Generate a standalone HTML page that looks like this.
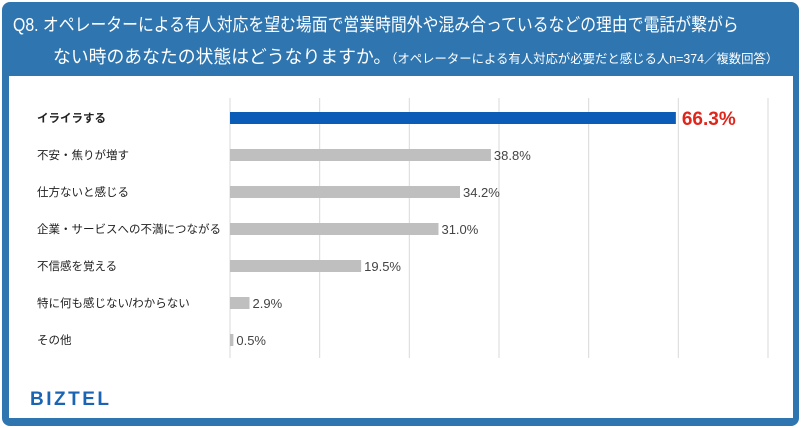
<!DOCTYPE html>
<html><head><meta charset="utf-8"><style>
body{margin:0;width:801px;height:428px;overflow:hidden;background:#fff;font-family:"Liberation Sans","Noto Sans CJK JP",sans-serif}
#frame{position:absolute;left:2px;top:2px;width:797px;height:424px;background:#2f76b1;border-radius:8px}
#panel{position:absolute;left:9px;top:76px;width:784px;height:342px;background:#fff}
.t{position:absolute;color:#fff;white-space:nowrap;transform-origin:0 0}
</style></head><body>
<div id="frame"></div>
<div class="t" style="left:13px;top:11px;font-size:18px;transform:scaleX(0.88)">Q8. オペレーターによる有人対応を望む場面で営業時間外や混み合っているなどの理由で電話が繋がら</div>
<div class="t" style="left:53px;top:43px;font-size:18px;transform:scaleX(0.99)">ない時のあなたの状態はどうなりますか。<span style="font-size:12.5px">（オペレーターによる有人対応が必要だと感じる人n=374／複数回答）</span></div>
<div id="panel"></div>
<svg id="chart" width="801" height="428" style="position:absolute;left:0;top:0"></svg>
<div style="position:absolute;left:30px;top:389px;color:#1b64b3;font-weight:bold;font-size:19px;letter-spacing:2.5px">BIZTEL</div>
<script>
const categories=["イライラする","不安・焦りが増す","仕方ないと感じる","企業・サービスへの不満につながる","不信感を覚える","特に何も感じない/わからない","その他"];
const values=[66.3,38.8,34.2,31.0,19.5,2.9,0.5];
const labels=["66.3%","38.8%","34.2%","31.0%","19.5%","2.9%","0.5%"];
const axisMax=80, gridCount=6;
const x0=230,x1=768,yTop=98,yBot=358,rowStart=118,rowStep=37,barH=12;
const xs=v=>x0+(x1-x0)*v/axisMax;
const ys=i=>rowStart+i*rowStep;
const svg=document.getElementById('chart');
const NS="http://www.w3.org/2000/svg";
function mk(t,a){const e=document.createElementNS(NS,t);for(const k in a)e.setAttribute(k,a[k]);svg.appendChild(e);return e;}
for(let g=0;g<=gridCount;g++){
  const x=xs(axisMax*g/gridCount);
  const l=mk('line',{x1:x,x2:x,y1:yTop,y2:yBot,stroke:'#d9d9d9','stroke-width':1});
  
  
}
values.forEach((v,i)=>{
  const first=i===0;
  const r=mk('rect',{x:x0,y:ys(i)-barH/2,width:xs(v)-x0,height:barH,fill:first?'#0b5cb7':'#bfbfbf'});
  
  
  const c=mk('text',{x:37,y:ys(i)+4,'font-size':11.5,fill:'#222','font-weight':first?'bold':'normal'});
  c.textContent=categories[i];
  
  
  const t=mk('text',{x:xs(v)+(first?6:3),y:ys(i)+(first?7:5),'font-size':first?19:13,fill:first?'#e0261b':'#444','font-weight':first?'bold':'normal'});
  t.textContent=labels[i];
  
  
});
</script>
</body></html>
